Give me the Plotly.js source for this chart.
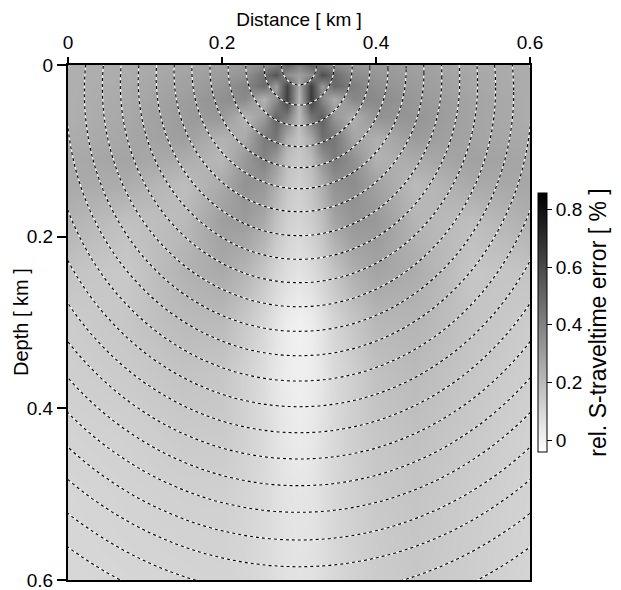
<!DOCTYPE html>
<html>
<head>
<meta charset="utf-8">
<script src="https://cdn.plot.ly/plotly-3.0.1.min.js"></script>
<style>html,body{margin:0;padding:0;background:#fff;}#chart{width:621px;height:590px;}</style>
</head>
<body>
<div id="chart"></div>
<script>
// grid positions (km)
const distanceKm = [0, 0.075, 0.15, 0.2, 0.23, 0.255, 0.27, 0.285, 0.3, 0.315, 0.33, 0.345, 0.37, 0.4, 0.45, 0.525, 0.6];
const depthKm = [0, 0.012, 0.025, 0.04, 0.06, 0.085, 0.11, 0.14, 0.18, 0.24, 0.3, 0.36, 0.43, 0.5, 0.6];
// relative S-traveltime error [%], one row per depth
const errRow0  = [0.24,0.25,0.27,0.29,0.31,0.35,0.41,0.50,0.40,0.50,0.43,0.37,0.33,0.31,0.29,0.26,0.25];
const errRow1  = [0.24,0.25,0.28,0.31,0.34,0.46,0.56,0.36,0.30,0.36,0.58,0.48,0.37,0.33,0.30,0.27,0.25];
const errRow2  = [0.24,0.255,0.29,0.33,0.39,0.47,0.30,0.62,0.25,0.64,0.32,0.49,0.41,0.35,0.31,0.27,0.25];
const errRow3  = [0.24,0.26,0.30,0.35,0.37,0.23,0.36,0.63,0.22,0.65,0.38,0.25,0.38,0.37,0.32,0.28,0.25];
const errRow4  = [0.24,0.265,0.31,0.32,0.22,0.31,0.50,0.42,0.20,0.44,0.52,0.33,0.24,0.34,0.33,0.28,0.25];
const errRow5  = [0.25,0.27,0.30,0.23,0.26,0.42,0.44,0.25,0.17,0.26,0.46,0.44,0.28,0.24,0.31,0.28,0.26];
const errRow6  = [0.26,0.28,0.25,0.21,0.32,0.40,0.31,0.19,0.15,0.20,0.33,0.42,0.35,0.23,0.26,0.29,0.27];
const errRow7  = [0.26,0.25,0.19,0.26,0.34,0.32,0.24,0.16,0.13,0.17,0.25,0.34,0.36,0.29,0.20,0.26,0.27];
const errRow8  = [0.23,0.18,0.20,0.30,0.31,0.26,0.18,0.13,0.11,0.14,0.19,0.28,0.33,0.32,0.22,0.19,0.24];
const errRow9  = [0.17,0.15,0.23,0.26,0.22,0.16,0.11,0.08,0.06,0.085,0.12,0.17,0.24,0.28,0.25,0.16,0.17];
const errRow10 = [0.14,0.16,0.20,0.20,0.15,0.10,0.055,0.025,0.01,0.025,0.06,0.11,0.16,0.21,0.22,0.17,0.14];
const errRow11 = [0.13,0.145,0.17,0.16,0.12,0.08,0.045,0.025,0.015,0.025,0.05,0.09,0.13,0.18,0.20,0.16,0.13];
const errRow12 = [0.115,0.125,0.145,0.145,0.12,0.09,0.06,0.04,0.03,0.04,0.065,0.095,0.13,0.16,0.18,0.15,0.12];
const errRow13 = [0.105,0.115,0.125,0.125,0.11,0.09,0.07,0.055,0.05,0.055,0.075,0.10,0.125,0.15,0.165,0.14,0.115];
const errRow14 = [0.10,0.105,0.11,0.115,0.105,0.09,0.075,0.065,0.06,0.065,0.08,0.10,0.12,0.14,0.155,0.135,0.11];

// traveltime wavefront contours: depth reached below the source, and half-width at the surface (km)
const sourceX = 0.3;
const wavefrontDepth = [0.0233,0.0466,0.0707,0.0951,0.1196,0.1441,0.1709,0.1988,0.2264,0.2536,0.2816,0.3103,0.3387,0.3682,0.3981,0.4284,0.4590,0.4901,0.5211,0.5534,0.5845,0.618,0.652,0.687];
const wavefrontHalfWidth = [0.0225,0.0455,0.069,0.092,0.1155,0.139,0.162,0.185,0.208,0.231,0.254,0.277,0.300,0.323,0.3465,0.370,0.393,0.416,0.440,0.463,0.486,0.509,0.5325,0.556];

const xTicks = [0, 0.2, 0.4, 0.6];
const yTicks = [0, 0.2, 0.4, 0.6];
const cbTicks = [0, 0.2, 0.4, 0.6, 0.8];

const z = [errRow0,errRow1,errRow2,errRow3,errRow4,errRow5,errRow6,errRow7,errRow8,errRow9,errRow10,errRow11,errRow12,errRow13,errRow14];

const FONT = 'Liberation Sans, Arial, sans-serif';

const shapes = [];
wavefrontDepth.forEach((b, i) => {
  const a = wavefrontHalfWidth[i];
  const R = (a * a + b * b) / (2 * b);
  const zc = b - R;
  const base = {type: 'circle', xref: 'x', yref: 'y', x0: sourceX - R, x1: sourceX + R, y0: zc - R, y1: zc + R, layer: 'above'};
  shapes.push(Object.assign({}, base, {line: {color: '#ffffff', width: 1.1}}));
  shapes.push(Object.assign({}, base, {line: {color: '#000000', width: 1.1, dash: '3px,3px'}}));
});

const trace = {
  type: 'heatmap',
  x: distanceKm,
  y: depthKm,
  z: z,
  zsmooth: 'best',
  zmin: -0.04,
  zmax: 0.856,
  colorscale: [[0, '#ffffff'], [1, '#000000']],
  hoverinfo: 'skip',
  colorbar: {
    x: 1.017, xanchor: 'left', xpad: 0,
    y: 0.5, yanchor: 'middle', len: 0.503, lenmode: 'fraction', ypad: 0,
    thickness: 9, thicknessmode: 'pixels',
    outlinewidth: 1, outlinecolor: '#000',
    tickvals: cbTicks, ticks: 'outside', ticklen: 5, tickwidth: 1, tickcolor: '#000',
    tickfont: {family: FONT, size: 19, color: '#000'},
    title: {text: 'rel. S-traveltime error [ % ]', side: 'right', font: {family: FONT, size: 23, color: '#000'}}
  }
};

const layout = {
  width: 621, height: 590,
  margin: {l: 68, r: 86, t: 65, b: 10},
  paper_bgcolor: '#fff', plot_bgcolor: '#fff',
  font: {family: FONT, size: 19, color: '#000'},
  showlegend: false,
  xaxis: {
    side: 'top', range: [0, 0.6], tickvals: xTicks, ticktext: xTicks.map(String),
    ticks: 'outside', ticklen: 6, tickwidth: 2, tickcolor: '#000',
    showline: true, linewidth: 2, linecolor: '#000', mirror: true,
    showgrid: false, zeroline: false, ticklabeloverflow: 'allow',
    tickfont: {family: FONT, size: 19},
    title: {text: 'Distance [ km ]', font: {family: FONT, size: 19}, standoff: 1}
  },
  yaxis: {
    range: [0.6, 0], tickvals: yTicks, ticktext: yTicks.map(String),
    ticks: 'outside', ticklen: 9, tickwidth: 2, tickcolor: '#000',
    showline: true, linewidth: 2, linecolor: '#000', mirror: true,
    showgrid: false, zeroline: false, ticklabeloverflow: 'allow',
    tickfont: {family: FONT, size: 19}
  },
  annotations: [{
    text: 'Depth [ km ]', xref: 'paper', yref: 'paper', x: -0.1028, y: 0.5,
    xanchor: 'center', yanchor: 'middle', textangle: -90, showarrow: false,
    font: {family: FONT, size: 20, color: '#000'}
  }],
  shapes: shapes
};

Plotly.newPlot('chart', [trace], layout, {displayModeBar: false, staticPlot: true});
</script>
</body>
</html>
